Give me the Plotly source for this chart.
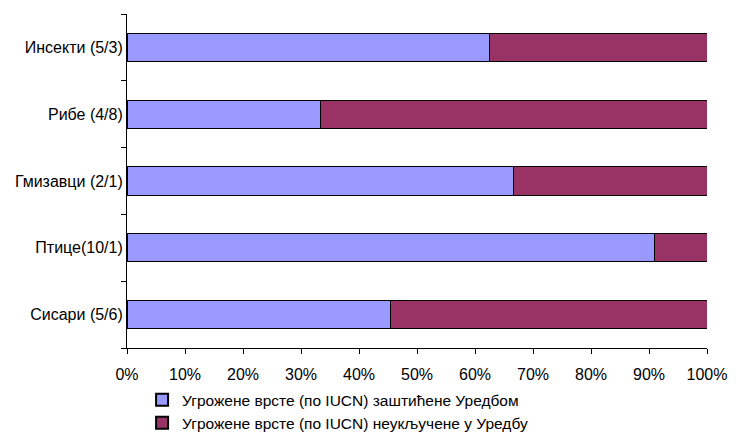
import plotly.graph_objects as go

categories = ["Сисари (5/6)", "Птице(10/1)", "Гмизавци (2/1)", "Рибе (4/8)", "Инсекти (5/3)"]
protected = [45.45, 90.91, 66.67, 33.33, 62.5]
not_included = [54.55, 9.09, 33.33, 66.67, 37.5]
series_names = ["Угрожене врсте (по IUCN) заштићене Уредбом",
                "Угрожене врсте (по IUCN) неукључене у Уредбу"]
tick_vals = [0, 10, 20, 30, 40, 50, 60, 70, 80, 90, 100]
tick_text = ["0%", "10%", "20%", "30%", "40%", "50%", "60%", "70%", "80%", "90%", "100%"]

fig = go.Figure()
fig.add_trace(go.Bar(y=categories, x=protected, orientation="h", name=series_names[0],
                     marker=dict(color="#9999FF", line=dict(color="#000000", width=1))))
fig.add_trace(go.Bar(y=categories, x=not_included, orientation="h", name=series_names[1],
                     marker=dict(color="#993366", line=dict(color="#000000", width=1))))

fig.update_layout(
    barmode="stack",
    bargap=0.58,
    width=740, height=436,
    margin=dict(l=119, r=41, t=6, b=96, autoexpand=False),
    plot_bgcolor="white", paper_bgcolor="white",
    font=dict(family="Liberation Sans, Arial, sans-serif", size=16, color="#000000"),
    showlegend=True,
    legend=dict(orientation="v", x=0.026, xanchor="left", y=-0.105, yanchor="top",
                traceorder="normal", font=dict(size=15.5), itemsizing="constant",
                tracegroupgap=0, bgcolor="rgba(0,0,0,0)"),
    xaxis=dict(range=[0, 100], tickvals=tick_vals, ticktext=tick_text, automargin=False,
               showgrid=False, zeroline=False, showline=True, linecolor="#000000",
               linewidth=1, ticks="outside", ticklen=5, tickcolor="#000000",
               ticklabelstandoff=7),
    yaxis=dict(showgrid=False, zeroline=False, showline=True, linecolor="#000000",
               linewidth=1, ticks="outside", ticklen=5, tickcolor="#000000", automargin=False,
               tickson="boundaries", categoryorder="array", categoryarray=categories),
)

fig.write_html("out.html")
